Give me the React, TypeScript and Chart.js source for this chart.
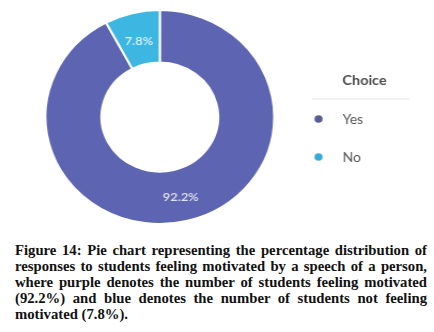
import React, { useEffect, useRef } from 'react';
import { Chart, registerables } from 'chart.js';

Chart.register(...registerables);

const labels = ['Yes', 'No'];
const values = [92.2, 7.8];
const valueLabels = ['92.2%', '7.8%'];
const sliceColors = ['#5d64b1', '#3db7e2'];
const dotColors = ['#575c96', '#38acd8'];
const legendTitle = 'Choice';
const captionLines = [
  'Figure 14: Pie chart representing the percentage distribution of',
  'responses to students feeling motivated by a speech of a person,',
  'where purple denotes the number of students feeling motivated',
  '(92.2%) and blue denotes the number of students not feeling',
  'motivated (7.8%).',
];

const STRETCH = 1.07;
const CANVAS_W = Math.round(434 / STRETCH);
const CANVAS_H = 232;

const sliceLabelPlugin = {
  id: 'sliceLabels',
  afterDatasetsDraw(chart: any) {
    const ctx = chart.ctx;
    const meta = chart.getDatasetMeta(0);
    ctx.save();
    ctx.font = '600 12px Lato';
    ctx.textAlign = 'center';
    ctx.textBaseline = 'middle';
    ctx.fillStyle = 'rgba(255,255,255,0.82)';
    meta.data.forEach((arc: any, i: number) => {
      const p = arc.tooltipPosition();
      ctx.fillText(valueLabels[i], p.x, p.y + 2);
    });
    ctx.restore();
  },
};

const legendPlugin = {
  id: 'customLegend',
  afterDraw(chart: any) {
    const ctx = chart.ctx;
    const x0 = 292;
    ctx.save();
    ctx.font = 'bold 13.5px Lato';
    ctx.fillStyle = '#4a4a4a';
    ctx.textAlign = 'center';
    ctx.textBaseline = 'middle';
    ctx.fillText(legendTitle, 341, 81);
    ctx.strokeStyle = '#ececec';
    ctx.lineWidth = 1.5;
    ctx.beginPath();
    ctx.moveTo(x0, 99);
    ctx.lineTo(383, 99);
    ctx.stroke();
    const labs = chart.data.labels as string[];
    labs.forEach((lab: string, i: number) => {
      const y = 119 + i * 38;
      ctx.fillStyle = dotColors[i];
      ctx.beginPath();
      ctx.arc(298, y, 3.8, 0, Math.PI * 2);
      ctx.fill();
      ctx.fillStyle = '#555555';
      ctx.font = '13px Lato';
      ctx.textAlign = 'left';
      ctx.fillText(lab, 320.5, y + 0.5);
    });
    ctx.restore();
  },
};

export default function App() {
  const canvasRef = useRef<HTMLCanvasElement | null>(null);

  useEffect(() => {
    const canvas = canvasRef.current;
    if (!canvas) return;
    const chart = new Chart(canvas, {
      type: 'doughnut',
      data: {
        labels,
        datasets: [
          {
            data: values,
            backgroundColor: sliceColors,
            borderColor: '#ffffff',
            borderWidth: 2,
          },
        ],
      },
      options: {
        responsive: false,
        animation: false,
        cutout: '51%',
        layout: {
          padding: { left: 41.5, top: 9, right: CANVAS_W - 257.5, bottom: CANVAS_H - 225 },
        },
        plugins: {
          legend: { display: false },
          tooltip: { enabled: false },
        },
      },
      plugins: [sliceLabelPlugin, legendPlugin],
    });
    return () => chart.destroy();
  }, []);

  return (
    <div
      style={{
        position: 'fixed',
        left: 0,
        top: 0,
        width: 434,
        height: 332,
        background: '#ffffff',
        overflow: 'hidden',
      }}
    >
      <canvas
        ref={canvasRef}
        width={CANVAS_W}
        height={CANVAS_H}
        style={{ position: 'absolute', left: 0, top: 0, width: 434, height: CANVAS_H }}
      />
      <div
        style={{
          position: 'absolute',
          left: 15,
          top: 242,
          width: 412,
          fontFamily: '"Liberation Serif", serif',
          fontWeight: 'bold',
          fontSize: 14.7,
          lineHeight: '16.1px',
          color: '#111111',
        }}
      >
        {captionLines.map((line, i) => (
          <div
            key={i}
            style={{
              whiteSpace: 'nowrap',
              textAlign: i === captionLines.length - 1 ? 'left' : 'justify',
              textAlignLast: i === captionLines.length - 1 ? 'left' : 'justify',
            }}
          >
            {line}
          </div>
        ))}
      </div>
    </div>
  );
}
